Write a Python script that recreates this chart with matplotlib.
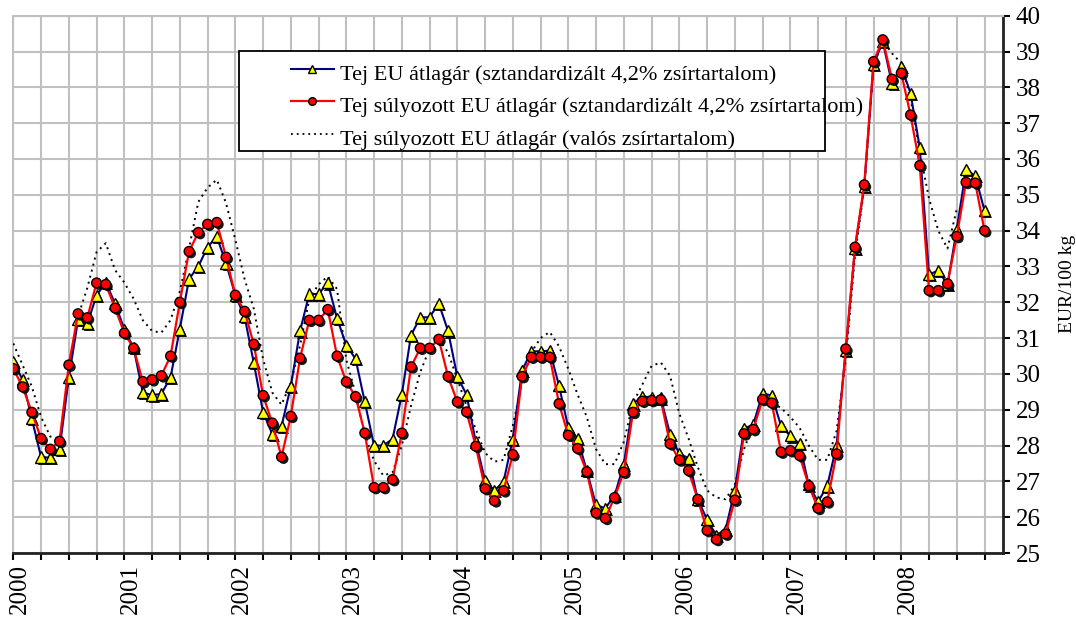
import numpy as np
import matplotlib
matplotlib.use("Agg")
import matplotlib.pyplot as plt
import matplotlib.patheffects as pe
import matplotlib.transforms as mtransforms
from matplotlib.patches import Rectangle
from matplotlib.lines import Line2D

plt.rcParams['font.family'] = ['Liberation Serif', 'DejaVu Serif']

# monthly data, Jan 2000 .. Oct 2008 (EUR/100 kg)
years = ["2000", "2001", "2002", "2003", "2004", "2005", "2006", "2007", "2008"]

eu_std = [30.35, 29.84, 28.75, 27.68, 27.66, 27.90, 29.90, 31.51, 31.40, 32.19, 32.56, 31.96,
          31.25, 30.73, 29.48, 29.41, 29.44, 29.90, 31.25, 32.65, 33.00, 33.54, 33.83, 33.09,
          32.20, 31.60, 30.31, 28.93, 28.32, 28.54, 29.65, 31.20, 32.23, 32.23, 32.54, 31.55,
          30.80, 30.42, 29.22, 28.00, 28.00, 28.18, 29.42, 31.08, 31.58, 31.58, 31.97, 31.20,
          29.93, 29.42, 28.10, 27.02, 26.74, 26.99, 28.18, 30.09, 30.63, 30.63, 30.65, 29.67,
          28.50, 28.20, 27.30, 26.34, 26.25, 26.60, 27.47, 29.16, 29.38, 29.33, 29.33, 28.32,
          27.77, 27.65, 26.50, 25.93, 25.50, 25.65, 26.75, 28.47, 28.59, 29.45, 29.40, 28.55,
          28.27, 28.05, 26.90, 26.43, 26.87, 28.00, 30.65, 33.51, 35.23, 38.63, 39.28, 38.10,
          38.58, 37.84, 36.32, 32.77, 32.89, 32.49, 34.04, 35.70, 35.53, 34.56]

eu_weighted = [30.15, 29.64, 28.93, 28.20, 27.90, 28.12, 30.25, 31.68, 31.57, 32.54, 32.50, 31.84,
               31.14, 30.72, 29.79, 29.84, 29.95, 30.50, 32.00, 33.42, 33.95, 34.18, 34.23, 33.26,
               32.20, 31.75, 30.83, 29.40, 28.63, 27.68, 28.82, 30.44, 31.50, 31.50, 31.80, 30.50,
               29.78, 29.37, 28.35, 26.83, 26.83, 27.05, 28.35, 30.20, 30.72, 30.72, 30.97, 29.93,
               29.22, 28.94, 27.98, 26.80, 26.46, 26.74, 27.75, 29.93, 30.47, 30.47, 30.47, 29.17,
               28.29, 27.92, 27.27, 26.12, 25.97, 26.55, 27.26, 28.93, 29.24, 29.26, 29.28, 28.05,
               27.60, 27.30, 26.50, 25.63, 25.38, 25.53, 26.48, 28.33, 28.45, 29.29, 29.19, 27.82,
               27.86, 27.72, 26.88, 26.25, 26.43, 27.77, 30.70, 33.54, 35.28, 38.72, 39.33, 38.23,
               38.40, 37.23, 35.82, 32.33, 32.33, 32.52, 33.84, 35.35, 35.33, 34.00]

eu_real = [30.85, 30.25, 29.65, 28.80, 28.25, 28.20, 29.90, 31.60, 32.40, 33.40, 33.65, 32.90,
           32.55, 32.10, 31.50, 31.20, 31.15, 31.50, 32.30, 33.50, 34.80, 35.20, 35.42, 34.77,
           33.75, 32.65, 31.82, 30.42, 29.48, 29.14, 29.75, 30.79, 32.09, 32.50, 32.72, 32.37,
           30.40, 29.45, 28.28, 27.58, 27.16, 27.25, 28.00, 29.11, 30.05, 30.70, 30.97, 30.60,
           29.86, 29.11, 28.46, 27.80, 27.55, 27.60, 28.55, 29.77, 30.60, 31.00, 31.17, 30.77,
           30.14, 29.43, 28.80, 27.90, 27.48, 27.48, 28.10, 29.19, 29.70, 30.22, 30.32, 29.95,
           28.90, 28.20, 27.40, 26.75, 26.55, 26.50, 26.90, 27.90, 28.60, 29.25, 29.20, 29.05,
           28.80, 28.50, 28.00, 27.60, 27.60, 28.40, 30.40, 33.30, 35.20, 38.60, 39.30, 38.95,
           38.67, 37.70, 36.20, 34.90, 34.00, 33.50, 34.60]

labels = ["Tej EU átlagár (sztandardizált 4,2% zsírtartalom)",
          "Tej súlyozott EU átlagár (sztandardizált 4,2% zsírtartalom)",
          "Tej súlyozott EU átlagár (valós zsírtartalom)"]

W, H = 1076, 617
fig = plt.figure(figsize=(W / 100, H / 100), dpi=100)
ax = fig.add_axes([13.3 / W, 1 - 553 / H, (1003 - 13.3) / W, (553 - 15.7) / H])

m_std = np.arange(len(eu_std))
m_real = np.arange(len(eu_real))

shadow = [pe.SimplePatchShadow(offset=(1.5, -1.5), shadow_rgbFace='black', alpha=0.9), pe.Normal()]

ax.plot(m_real, eu_real, color='black', lw=1.4, ls=(0, (1.0, 2.2)), zorder=3)
ax.plot(m_std, eu_std, color='#000080', lw=1.5, zorder=4)
ax.plot(m_std, eu_std, ls='none', marker='^', ms=8, mfc='#ffff00', mec='black', mew=1.0,
        path_effects=shadow, zorder=5)
ax.plot(m_std, eu_weighted, color='#ff0000', lw=1.6, zorder=6)
ax.plot(m_std, eu_weighted, ls='none', marker='o', ms=7, mfc='#ff0000', mec='black', mew=1.0,
        path_effects=shadow, zorder=7)

ax.set_xlim(0, 107)
ax.set_ylim(25, 40)
ax.set_xticks(np.arange(0, 97, 12))
ax.set_xticklabels(years)
ax.set_xticks(np.arange(0, 107, 3), minor=True)
ax.set_yticks(np.arange(25, 41, 1))

ax.grid(True, which='both', color='#c0c0c0', lw=1.5)
ax.set_axisbelow(True)

ax.yaxis.tick_right()
ax.yaxis.set_label_position('right')
ax.set_ylabel('EUR/100 kg', fontsize=14, labelpad=13)

ax.tick_params(axis='y', which='both', direction='out', length=5, width=1.5,
               labelsize=18, pad=4, colors='black')
ax.tick_params(axis='x', which='both', direction='out', length=5, width=1.5,
               labelsize=18, pad=3, labelrotation=90)

for lab in ax.get_xticklabels():
    lab.set_transform(lab.get_transform() + mtransforms.ScaledTranslation(0.07, 0, fig.dpi_scale_trans))

for s in ['left', 'top']:
    ax.spines[s].set_color('#c0c0c0')
    ax.spines[s].set_linewidth(1.5)
for s in ['bottom', 'right']:
    ax.spines[s].set_color('#222222')
    ax.spines[s].set_linewidth(2)

# legend box (drawn by hand, text runs past the frame as in the original)
def fx(px):
    return px / W

def fy(py):
    return 1 - py / H

fig.add_artist(Rectangle((fx(239.3), fy(151)), fx(825) - fx(239.3), fy(51) - fy(151),
                         transform=fig.transFigure, fc='white', ec='black', lw=1.3, zorder=10))

handles = [dict(color='#000080', lw=1.5, marker='^', ms=6, mfc='#ffff00', mec='black'),
           dict(color='#ff0000', lw=1.6, marker='o', ms=5.5, mfc='#ff0000', mec='black'),
           dict(color='black', lw=1.3, ls=(0, (1.0, 2.2)), marker=None)]
for i, (lab, st) in enumerate(zip(labels, handles)):
    yh = [68.5, 100.5, 133.5][i]
    yb = [80, 112, 144.5][i]
    ln = Line2D([fx(290.7), fx(312.3), fx(334)], [fy(yh)] * 3, transform=fig.transFigure,
                markevery=[1], zorder=11, **st)
    fig.add_artist(ln)
    fig.text(fx(340), fy(yb), lab, fontsize=16, va='baseline', ha='left', zorder=12)

fig.savefig('out.png', dpi=100)
